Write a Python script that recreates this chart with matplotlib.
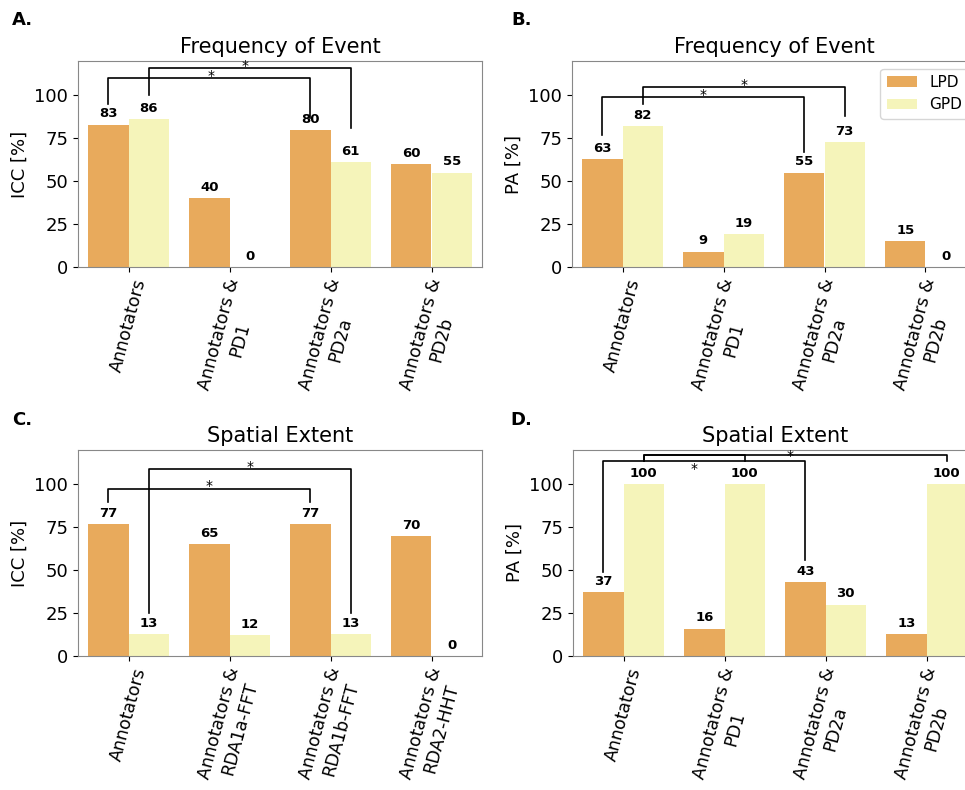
import matplotlib.pyplot as plt
import numpy as np

# categories
freq_labels = ["Annotators", "Annotators &\nPD1", "Annotators &\nPD2a", "Annotators &\nPD2b"]
spatial_labels_c = ["Annotators", "Annotators &\nRDA1a-FFT", "Annotators &\nRDA1b-FFT", "Annotators &\nRDA2-HHT"]
spatial_labels_d = freq_labels

# values per panel (LPD, GPD)
a_lpd = [83, 40, 80, 60]
a_gpd = [86, 0, 61, 55]
b_lpd = [63, 9, 55, 15]
b_gpd = [82, 19, 73, 0]
c_lpd = [77, 65, 77, 70]
c_gpd = [13, 12, 13, 0]
d_lpd = [37, 16, 43, 13]
d_gpd = [100, 100, 30, 100]

# significance brackets: (x1, x2, line height, left leg bottom, right leg bottom)
a_brackets = [(-0.2, 1.8, 110, 95, 87), (0.2, 2.2, 116, 100, 81)]
a_stars = [(0.82, 112), (1.15, 118)]
b_brackets = [(-0.2, 1.8, 99, 77, 67), (0.2, 2.2, 105, 95, 88)]
b_stars = [(0.8, 101), (1.2, 107)]
c_brackets = [(-0.2, 1.8, 97.5, 90, 90), (0.2, 2.2, 109, 25, 25)]
c_stars = [(0.8, 100), (1.2, 111)]
d_brackets = [(-0.2, 1.8, 113.5, 49, 56), (0.2, 1.2, 117, 113.5, 113.5), (0.2, 3.2, 117, 113.5, 113.5)]
d_stars = [(0.7, 110), (1.65, 117.5)]

LPD_COLOR = "#E8AA5C"
GPD_COLOR = "#F5F4BA"
W, H = 965, 790


def px_axes(fig, left, top, right, bottom):
    return fig.add_axes([left / W, 1 - bottom / H, (right - left) / W, (bottom - top) / H])


def draw_panel(ax, labels, lpd, gpd, title, ylabel, brackets, stars, legend=False):
    x = np.arange(len(labels))
    b1 = ax.bar(x - 0.2, lpd, 0.4, color=LPD_COLOR, label="LPD")
    b2 = ax.bar(x + 0.2, gpd, 0.4, color=GPD_COLOR, label="GPD")
    for bars in (b1, b2):
        ax.bar_label(bars, fmt="%d", padding=3, fontsize=9.5, fontweight="bold")
    for x1, x2, y, yl, yr in brackets:
        ax.plot([x1, x1, x2, x2], [yl, y, y, yr], color="black", lw=1.2)
    for sx, sy in stars:
        ax.text(sx, sy - 1, "*", ha="center", va="center", fontsize=10)
    ax.set_xlim(-0.5, 3.5)
    ax.set_ylim(0, 120)
    ax.set_yticks([0, 25, 50, 75, 100])
    ax.set_xticks(x)
    ax.set_xticklabels(labels, rotation=75, ha="center", fontsize=12.5)
    ax.tick_params(axis="y", labelsize=13)
    ax.set_ylabel(ylabel, fontsize=13)
    ax.set_title(title, fontsize=15, pad=6)
    for sp in ax.spines.values():
        sp.set_color("#888888")
    if legend:
        ax.legend(loc="upper right", fontsize=11)


fig = plt.figure(figsize=(W / 100, H / 100), dpi=100)

ax_a = px_axes(fig, 78, 61, 482, 267)
ax_b = px_axes(fig, 572, 61, 976, 267)
ax_c = px_axes(fig, 78, 450, 482, 656)
ax_d = px_axes(fig, 573, 450, 977, 656)

draw_panel(ax_a, freq_labels, a_lpd, a_gpd, "Frequency of Event", "ICC [%]", a_brackets, a_stars)
draw_panel(ax_b, freq_labels, b_lpd, b_gpd, "Frequency of Event", "PA [%]", b_brackets, b_stars, legend=True)
draw_panel(ax_c, spatial_labels_c, c_lpd, c_gpd, "Spatial Extent", "ICC [%]", c_brackets, c_stars)
draw_panel(ax_d, spatial_labels_d, d_lpd, d_gpd, "Spatial Extent", "PA [%]", d_brackets, d_stars)

for letter, xp, yp in [("A.", 12, 20), ("B.", 511, 20), ("C.", 12, 420), ("D.", 510, 420)]:
    fig.text(xp / W, 1 - yp / H, letter, fontsize=13, fontweight="bold", va="center")

fig.savefig("out.png", dpi=100)
